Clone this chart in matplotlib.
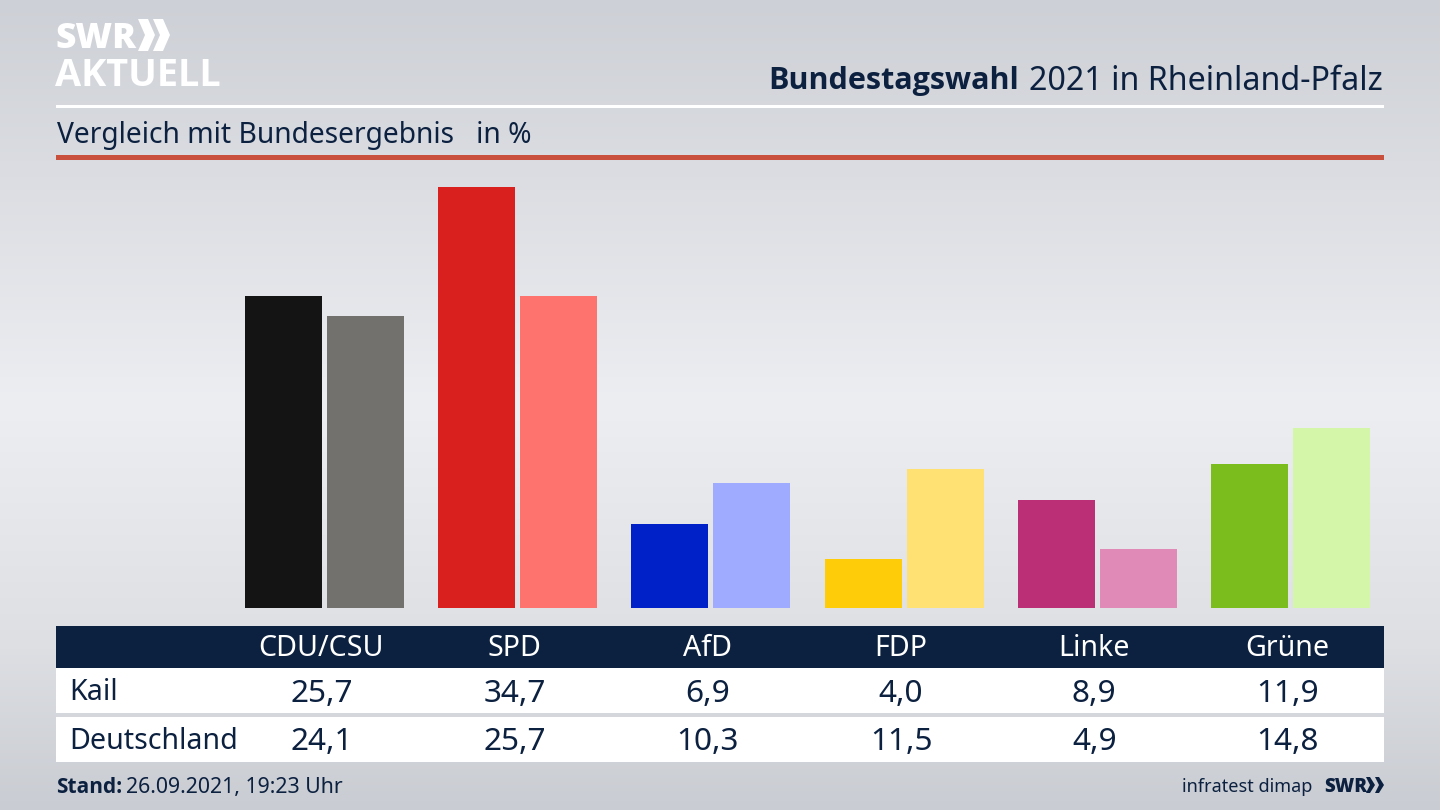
#!/usr/bin/env python3
import numpy as np
import matplotlib
matplotlib.use('Agg')
import matplotlib.pyplot as plt
from matplotlib.colors import LinearSegmentedColormap
from matplotlib.patches import Polygon, Rectangle

parties = ['CDU/CSU', 'SPD', 'AfD', 'FDP', 'Linke', 'Grüne']
kail = [25.7, 34.7, 6.9, 4.0, 8.9, 11.9]
deutschland = [24.1, 25.7, 10.3, 11.5, 4.9, 14.8]
kail_colors = ['#141414', '#d9201e', '#0020c8', '#ffcc0a', '#bb2f77', '#7abd1c']
deutschland_colors = ['#72716e', '#ff736e', '#9eabff', '#ffe072', '#e08ab8', '#d3f6a8']
row_names = ['Kail', 'Deutschland']

NAVY = '#0c2140'
BOLD = 'Open Sans'
plt.rcParams['font.family'] = ['Noto Sans', 'DejaVu Sans']

fig = plt.figure(figsize=(14.4, 8.1), dpi=100)

# furniture axes, works in image pixels
bg = fig.add_axes([0, 0, 1, 1])
bg.set_xlim(0, 1440)
bg.set_ylim(810, 0)
bg.axis('off')

cmap = LinearSegmentedColormap.from_list(
    'bg', [(0, '#cdd0d6'), (0.2, '#dadce1'), (0.5, '#eceef2'), (0.8, '#dddfe3'), (1, '#c9ccd2')])
grad = np.linspace(0, 1, 256).reshape(-1, 1)
bg.imshow(grad, cmap=cmap, extent=(0, 1440, 810, 0), aspect='auto', zorder=0)

# rules
bg.add_patch(Rectangle((56, 104.5), 1328, 3, color='white', lw=0, zorder=1))
bg.add_patch(Rectangle((56, 155), 1328, 5, color='#c8503c', lw=0, zorder=1))

# logo
bg.text(55, 38.5, 'SWR', color='white', fontsize=25.5, fontweight='black', family=BOLD,
        va='center', ha='left', zorder=2)
bg.text(55, 76, 'AKTUELL', color='white', fontsize=27.3, fontweight='bold', family=BOLD,
        va='center', ha='left', zorder=2)
for x0 in (138, 153):
    bg.add_patch(Polygon([(x0, 19), (x0 + 10, 19), (x0 + 17, 35), (x0 + 10, 51), (x0, 51), (x0 + 7, 35)],
                         closed=True, color='white', lw=0, zorder=2))

# titles
bg.text(1019, 81, 'Bundestagswahl', color=NAVY, fontsize=22, fontweight='bold', family=BOLD,
        ha='right', va='center', zorder=2)
bg.text(1383, 81, '2021 in Rheinland-Pfalz', color=NAVY, fontsize=23.2,
        ha='right', va='center', zorder=2)
bg.text(57, 135, 'Vergleich mit Bundesergebnis   in %', color=NAVY, fontsize=20.3,
        ha='left', va='center', zorder=2)

# table
bg.add_patch(Rectangle((56, 626), 1328, 42, color=NAVY, lw=0, zorder=1))
bg.add_patch(Rectangle((56, 668), 1328, 45, color='white', lw=0, zorder=1))
bg.add_patch(Rectangle((56, 717), 1328, 45, color='white', lw=0, zorder=1))

centers = 321 + 193.2 * np.arange(len(parties))
row_y = [694, 742.5]
for i, name in enumerate(parties):
    bg.text(centers[i], 648.5, name, color='white', fontsize=20.6, ha='center', va='center', zorder=2)
    for y, vals in zip(row_y, (kail, deutschland)):
        bg.text(centers[i] + 0.5, y, f'{vals[i]:.1f}'.replace('.', ','), color=NAVY, fontsize=22.7,
                ha='center', va='center', zorder=2)
for y, name in zip(row_y, row_names):
    bg.text(69.5, y - 1, name, color=NAVY, fontsize=20.6, ha='left', va='center', zorder=2)

# footer
bg.text(56, 787.5, 'Stand:', color=NAVY, fontsize=15, fontweight='bold', family=BOLD,
        ha='left', va='center', zorder=2)
bg.text(126, 787.5, '26.09.2021, 19:23 Uhr', color=NAVY, fontsize=15.3, ha='left', va='center', zorder=2)
bg.text(1312, 787.5, 'infratest dimap', color=NAVY, fontsize=13, ha='right', va='center', zorder=2)
bg.text(1324, 787, 'SWR', color=NAVY, fontsize=13.5, fontweight='black', family=BOLD,
        ha='left', va='center', zorder=2)
for x0 in (1366, 1375):
    bg.add_patch(Polygon([(x0, 777), (x0 + 4, 777), (x0 + 9, 785), (x0 + 4, 793), (x0, 793), (x0 + 4, 785)],
                         closed=True, color=NAVY, lw=0, zorder=2))

# bars: 12.13 px per percentage point, 193.2 px per party
ax = fig.add_axes([0, (810 - 608) / 810, 1, (608 - 160) / 810])
ax.patch.set_alpha(0)
ax.axis('off')
ax.set_xlim(-324.5 / 193.2, (1440 - 324.5) / 193.2)
ax.set_ylim(0, (608 - 160) / 12.13)
x = np.arange(len(parties))
ax.bar(x - 0.2124, kail, width=0.398, color=kail_colors)
ax.bar(x + 0.2124, deutschland, width=0.398, color=deutschland_colors)

fig.savefig('out.png', dpi=100)
